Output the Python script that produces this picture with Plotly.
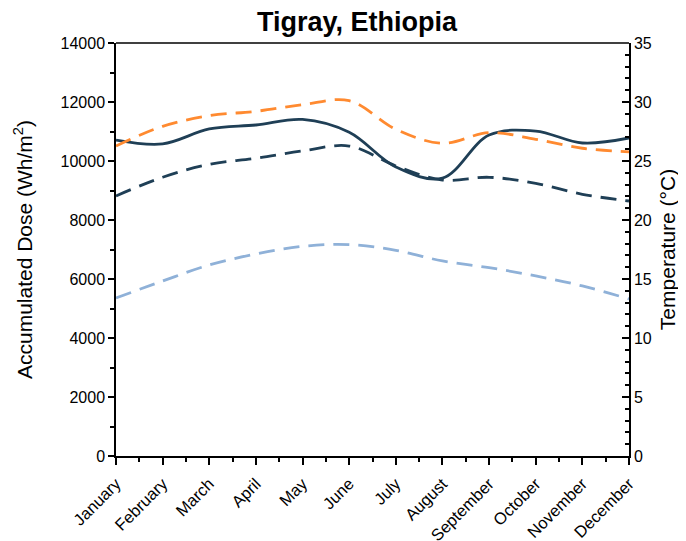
import plotly.graph_objects as go

months = ["January", "February", "March", "April", "May", "June", "July",
          "August", "September", "October", "November", "December"]
dose = [10710, 10580, 11085, 11220, 11410, 10975, 9800, 9420, 10880, 11015, 10610, 10780]
temp_max = [26.27, 27.94, 28.84, 29.21, 29.77, 30.11, 27.69, 26.50, 27.40, 26.84, 26.08, 25.77]
temp_avg = [22.04, 23.62, 24.72, 25.23, 25.85, 26.27, 24.58, 23.39, 23.62, 23.11, 22.18, 21.61]
temp_min = [13.39, 14.83, 16.19, 17.12, 17.77, 17.91, 17.43, 16.53, 15.96, 15.26, 14.41, 13.31]

FONT = "Liberation Sans, Arial, sans-serif"
NAVY = "#1f3f56"
ORANGE = "#ff8a30"
LIGHT = "#8fb1d8"
x = list(range(len(months)))

# the page body has an 8px margin, so the figure is sized to fit the window
W, H = 678, 533

fig = go.Figure()
fig.add_trace(go.Scatter(x=x, y=temp_min, yaxis="y2", mode="lines",
                         line=dict(color=LIGHT, width=2.8, shape="spline", dash="16px,9px")))
fig.add_trace(go.Scatter(x=x, y=temp_avg, yaxis="y2", mode="lines",
                         line=dict(color=NAVY, width=2.8, shape="spline", dash="16px,9px")))
fig.add_trace(go.Scatter(x=x, y=temp_max, yaxis="y2", mode="lines",
                         line=dict(color=ORANGE, width=2.8, shape="spline", dash="16px,9px")))
fig.add_trace(go.Scatter(x=x, y=dose, mode="lines",
                         line=dict(color=NAVY, width=2.8, shape="spline")))

fig.update_layout(
    width=W, height=H,
    margin=dict(l=108, r=57, t=35, b=85, autoexpand=False),
    plot_bgcolor="white", paper_bgcolor="white",
    showlegend=False,
    font=dict(family=FONT, color="black", size=16),
    title=dict(text="<b>Tigray, Ethiopia</b>", x=349 / W, xanchor="center",
               y=1 - 14 / H, yanchor="middle", font=dict(size=27, family=FONT)),
    xaxis=dict(range=[0, 11], tickmode="array", tickvals=x, ticktext=months,
               tickangle=-45, ticks="outside", ticklen=7, tickwidth=1.5, tickcolor="black",
               showline=True, linecolor="black", linewidth=1.5, mirror=False,
               showgrid=False, zeroline=False, tickfont=dict(size=16.5),
               ticklabelstandoff=3,
               minor=dict(tickvals=[i + 0.5 for i in range(11)], ticks="outside",
                          ticklen=4, tickwidth=1.5, tickcolor="black")),
    yaxis=dict(range=[0, 14000], dtick=2000, tickformat="d", ticks="outside", ticklen=6,
               tickwidth=1.5, tickcolor="black", showline=True, linecolor="black",
               linewidth=1.5, showgrid=False, zeroline=False, tickfont=dict(size=16),
               title=dict(text="Accumulated Dose (Wh/m<sup>2</sup>)", font=dict(size=21), standoff=22),
               minor=dict(dtick=1000, ticks="outside", ticklen=4, tickwidth=1.5, tickcolor="black")),
    yaxis2=dict(range=[0, 35], dtick=5, overlaying="y", side="right",
                ticks="inside", ticklen=7, tickwidth=1.5, tickcolor="black",
                showline=True, linecolor="black", linewidth=1.5,
                showgrid=False, zeroline=False, tickfont=dict(size=16),
                title=dict(text="Temperature (°C)", font=dict(size=21), standoff=9),
                minor=dict(dtick=1, ticks="inside", ticklen=4, tickwidth=1.5, tickcolor="black")),
)
# top border line
fig.add_shape(type="line", xref="paper", yref="paper", x0=0, x1=1, y0=1, y1=1,
              line=dict(color="black", width=1.5))

fig.write_html("out.html")
